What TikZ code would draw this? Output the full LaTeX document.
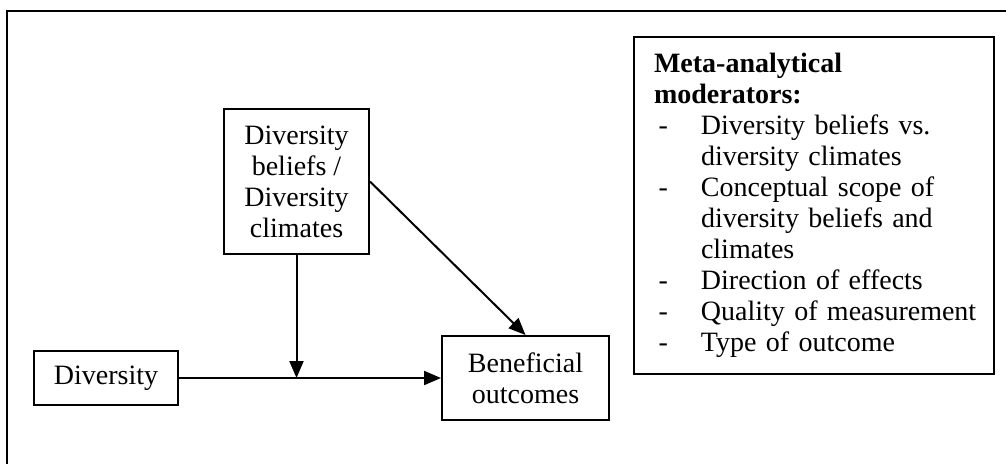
\documentclass[tikz,border=0pt]{standalone}
\usepackage{fontspec}
\setmainfont{Liberation Serif}
\usepackage{tikz}
\usetikzlibrary{arrows.meta,positioning}

\begin{document}
\begin{tikzpicture}[
  x=1pt,y=-1pt,
  box/.style={draw,line width=2pt,align=center,inner sep=0pt,font=\fontsize{28}{31}\selectfont},
  arr/.style={-{Triangle[length=17pt,width=14pt]},line width=2pt}
]
  \useasboundingbox (0,0) rectangle (1006,464);
  % outer frame (cut at the right and bottom)
  \draw[line width=2.2pt] (7,464) -- (7,11) -- (1006,11);

  \node[box,minimum width=144pt,minimum height=54pt] (div) at (106,378) {Diversity};
  \node[box,minimum width=145pt,minimum height=145pt] (beliefs) at (296.5,181.5)
    {Diversity\\beliefs /\\Diversity\\climates};
  \node[box,minimum width=167pt,minimum height=84pt] (outcomes) at (525.5,378)
    {Beneficial\\outcomes};
  \node[box,anchor=north west,align=left,text width=320pt,inner xsep=20pt,minimum height=337pt] (mods) at (633,36)
    {\begin{tabular}{@{}p{47pt}@{}l@{}}
      \multicolumn{2}{@{}l@{}}{\textbf{Meta-analytical}}\\
      \multicolumn{2}{@{}l@{}}{\textbf{moderators:}}\\
      \,- & Diversity beliefs vs.\\
          & diversity climates\\
      \,- & Conceptual scope of\\
          & diversity beliefs and\\
          & climates\\
      \,- & Direction of effects\\
      \,- & Quality of measurement\\
      \,- & Type of outcome
    \end{tabular}};

  \coordinate (meet) at (beliefs.south |- div.east);
  \draw[arr] (div.east) -- (outcomes.west);
  \draw[arr] (beliefs.south) -- (meet);
  \draw[arr] (beliefs.east) -- (outcomes.north);
\end{tikzpicture}
\end{document}
